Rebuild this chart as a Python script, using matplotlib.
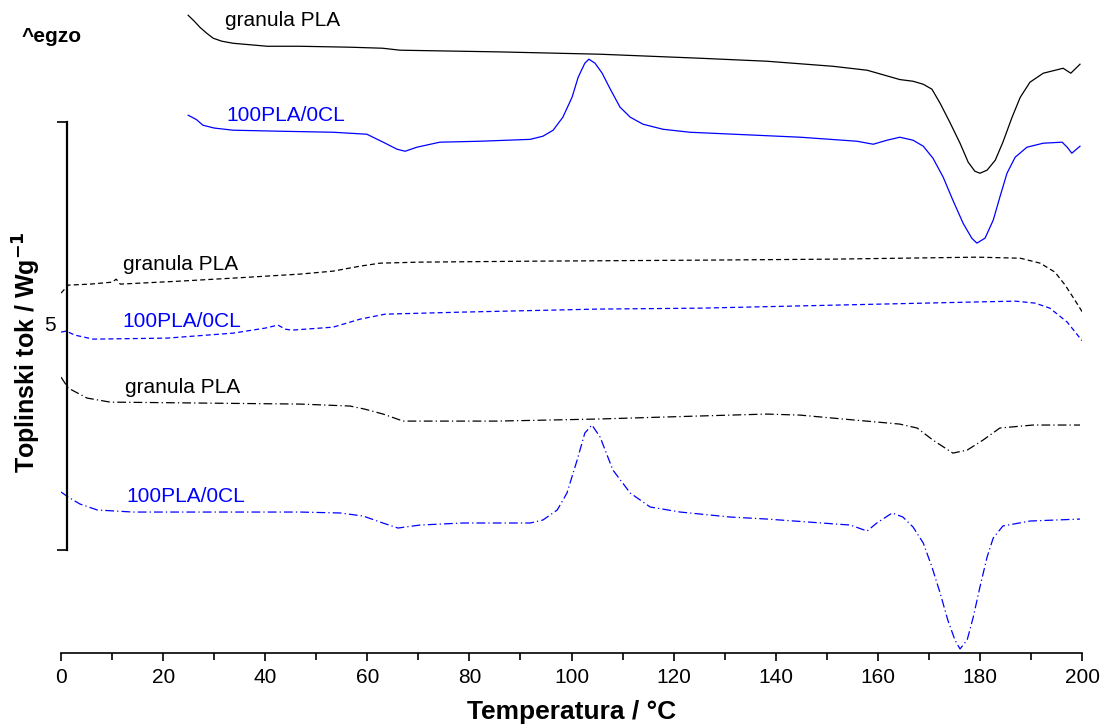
import numpy as np
import matplotlib.pyplot as plt

plt.rcParams['font.family'] = ['Liberation Sans', 'DejaVu Sans']

# granula PLA, solid (first heating)
t_pla1 = [24.9, 26.0, 27.2, 28.5, 29.8, 31.5, 33.7, 40.4, 46.8, 56.6, 63.0, 66.4, 86.0, 105.6,
          125.2, 138.3, 151.2, 157.9, 164.3, 166.9, 168.9, 170.6, 172.2, 174.1, 176.1, 177.7,
          179.0, 180.0, 181.4, 183.0, 184.5, 186.3, 187.9, 189.8, 192.4, 196.3, 197.8, 199.6]
q_pla1 = [7.453, 7.390, 7.313, 7.245, 7.185, 7.150, 7.126, 7.091, 7.091, 7.080, 7.068, 7.045,
          7.025, 6.998, 6.951, 6.916, 6.857, 6.811, 6.702, 6.682, 6.647, 6.589, 6.425, 6.203,
          5.958, 5.736, 5.631, 5.607, 5.643, 5.759, 5.970, 6.262, 6.495, 6.671, 6.776, 6.834,
          6.776, 6.881]

# 100PLA/0CL, solid
t_mix1 = [24.9, 26.5, 27.8, 30.0, 33.7, 42.9, 53.3, 59.9, 63.1, 65.8, 67.4, 69.7, 74.2, 82.1,
          91.9, 94.4, 96.4, 98.3, 100.1, 101.3, 102.6, 103.4, 104.6, 106.0, 107.5, 109.5, 111.5,
          114.0, 117.9, 123.2, 144.8, 155.9, 159.1, 161.8, 164.3, 166.9, 168.9, 170.8,
          172.8, 174.7, 176.7, 178.4, 179.4, 181.0, 182.6, 183.9, 185.3, 186.9, 189.2,
          192.4, 196.1, 197.1, 198.0, 199.6]
q_mix1 = [6.285, 6.235, 6.168, 6.135, 6.110, 6.098, 6.086, 6.063, 5.970, 5.888, 5.864, 5.911,
          5.970, 5.981, 6.003, 6.040, 6.110, 6.262, 6.495, 6.729, 6.893, 6.940, 6.893, 6.776,
          6.600, 6.379, 6.262, 6.180, 6.121, 6.086, 6.028, 5.981, 5.946, 5.993, 6.028, 5.993,
          5.923, 5.783, 5.561, 5.292, 5.023, 4.848, 4.790, 4.848, 5.058, 5.327, 5.607, 5.794,
          5.911, 5.958, 5.970, 5.911, 5.841, 5.923]

# granula PLA, dashed (cooling)
t_pla2 = [0, 1.4, 5.7, 10.0, 10.8, 11.6, 23.3, 33.7, 46.8, 53.3, 58.6, 62.5, 70.3, 91.9,
          125.2, 151.2, 179.4, 187.9, 191.8, 194.7, 196.7, 198.6, 200]
q_pla2 = [4.206, 4.299, 4.311, 4.334, 4.369, 4.311, 4.346, 4.381, 4.428, 4.463, 4.521, 4.556,
          4.568, 4.579, 4.591, 4.603, 4.626, 4.614, 4.556, 4.451, 4.299, 4.124, 3.990]

# 100PLA/0CL, dashed
t_mix2 = [0, 1.0, 2.7, 6.3, 20.8, 33.7, 40.0, 42.5, 43.9, 45.2, 53.3, 58.6, 63.5, 78.7,
          105.0, 125.2, 151.2, 177.5, 186.9, 190.8, 193.7, 197.1, 200]
q_mix2 = [3.750, 3.762, 3.715, 3.668, 3.680, 3.738, 3.797, 3.832, 3.785, 3.773, 3.808, 3.902,
          3.960, 3.984, 4.019, 4.030, 4.065, 4.100, 4.112, 4.089, 4.030, 3.867, 3.650]

# granula PLA, dash-dot (second heating)
t_pla3 = [0, 1.4, 5.1, 9.6, 27.2, 46.8, 56.6, 59.5, 63.1, 67.0, 72.3, 85.4, 105.0, 117.9,
          131.0, 138.3, 144.8, 151.2, 164.3, 167.7, 170.8, 174.7, 177.5, 180.6, 183.9,
          190.4, 199.6]
q_pla3 = [3.224, 3.096, 2.979, 2.932, 2.921, 2.909, 2.886, 2.850, 2.792, 2.710, 2.710, 2.710,
          2.734, 2.757, 2.780, 2.792, 2.780, 2.745, 2.675, 2.629, 2.488, 2.336, 2.371,
          2.488, 2.629, 2.664, 2.664]

# 100PLA/0CL, dash-dot
t_mix3 = [0, 1.4, 3.7, 7.1, 14.1, 46.8, 54.7, 59.2, 62.5, 66.0, 70.3, 78.7, 91.9, 94.4,
          97.2, 99.1, 101.1, 102.6, 104.0, 105.6, 108.1, 111.5, 115.4, 121.3, 131.0, 138.3,
          154.6, 157.9, 159.8, 162.8, 164.9, 166.9, 168.9, 170.6, 172.2, 173.7, 175.1,
          176.1, 177.5, 178.7, 180.0, 181.4, 182.6, 184.5, 189.8, 199.6]
q_mix3 = [1.881, 1.822, 1.741, 1.671, 1.647, 1.647, 1.636, 1.600, 1.530, 1.460, 1.495, 1.519,
          1.519, 1.554, 1.671, 1.869, 2.255, 2.570, 2.664, 2.523, 2.138, 1.869, 1.706, 1.647,
          1.589, 1.565, 1.495, 1.425, 1.519, 1.636, 1.589, 1.472, 1.285, 1.005, 0.701, 0.386,
          0.152, 0.047, 0.152, 0.421, 0.771, 1.121, 1.343, 1.484, 1.542, 1.565]

labels = ['granula PLA', '100PLA/0CL'] * 3
label_x = [32.1, 32.3, 12.1, 12.1, 12.5, 12.7]
label_y = [7.395, 6.285, 4.544, 3.879, 3.107, 1.834]

blue = '#0000ff'
dash = (0, (4, 2.5))
dashdot = (0, (7, 2.5, 1, 2.5))

fig = plt.figure(figsize=(11.04, 7.26), dpi=100)
ax = fig.add_axes([0.0553, 0.1006, 0.9248, 0.888])

ax.plot(t_pla1, q_pla1, color='black', lw=0.9)
ax.plot(t_mix1, q_mix1, color=blue, lw=0.9)
ax.plot(t_pla2, q_pla2, color='black', lw=0.9, linestyle=dash)
ax.plot(t_mix2, q_mix2, color=blue, lw=0.9, linestyle=dash)
ax.plot(t_pla3, q_pla3, color='black', lw=0.9, linestyle=dashdot)
ax.plot(t_mix3, q_mix3, color=blue, lw=0.9, linestyle=dashdot)

for i in range(len(labels)):
    c = 'black' if i % 2 == 0 else blue
    ax.text(label_x[i], label_y[i], labels[i], color=c, fontsize=15, va='center', ha='left')

ax.set_xlim(0, 200)
ax.set_ylim(0, 7.535)
ax.set_xticks(np.arange(0, 201, 20))
ax.set_xticks(np.arange(10, 200, 20), minor=True)
ax.tick_params(axis='x', which='major', direction='out', length=6, width=1.2, labelsize=15, pad=5)
ax.tick_params(axis='x', which='minor', direction='out', length=5, width=1.2)

# scale bar as left spine
ax.spines['top'].set_visible(False)
ax.spines['right'].set_visible(False)
ax.spines['bottom'].set_linewidth(1.2)
ax.spines['left'].set_position(('data', 1.2))
ax.spines['left'].set_bounds(1.2, 6.2)
ax.spines['left'].set_linewidth(1.6)
ax.set_yticks([1.2, 6.2])
ax.set_yticklabels([])
ax.tick_params(axis='y', direction='out', length=7, width=1.2)
ax.text(-2.2, 3.832, '5', fontsize=15, ha='center', va='center', clip_on=False)

ax.set_xlabel('Temperatura / °C', fontsize=19, fontweight='bold', labelpad=9)
fig.text(27 / 1104, 1 - 352 / 726, 'Toplinski tok / Wg$^\\mathbf{-1}$', rotation=90,
         fontsize=18, fontweight='bold', ha='center', va='center')
fig.text(22 / 1104, 1 - 37 / 726, '^egzo', fontsize=15, fontweight='bold', ha='left', va='center')

plt.savefig('out.png', dpi=100)
